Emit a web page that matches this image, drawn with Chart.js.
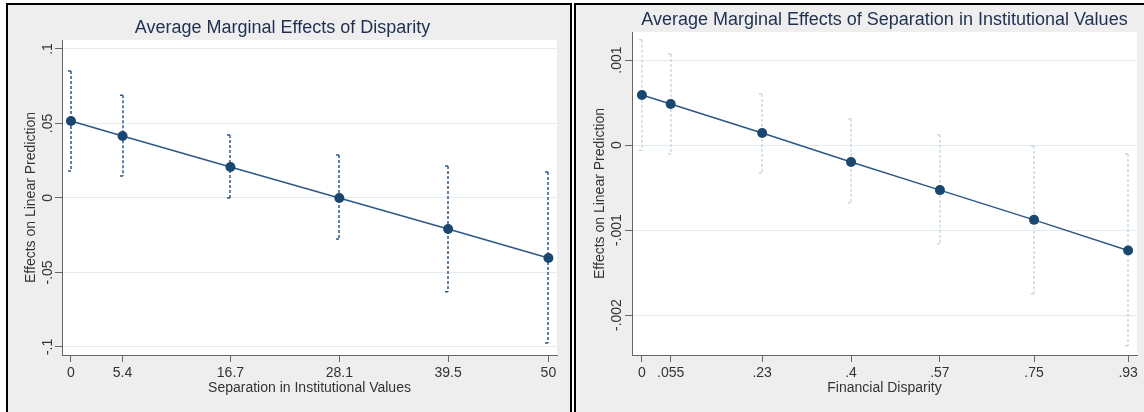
<!DOCTYPE html>
<html>
<head>
<meta charset="utf-8">
<script src="https://cdn.jsdelivr.net/npm/chart.js@4.4.1/dist/chart.umd.min.js"></script>
<style>
  body { margin: 0; background: #fff; width: 1144px; height: 412px; overflow: hidden; position: relative; }
  .panel { position: absolute; top: 3px; border: 2px solid #000; background: #eeeeee; height: 412px; }
  #p1 { left: 6px; width: 562px; }
  #p2 { left: 574px; width: 570px; }
  canvas { display: block; }
</style>
</head>
<body>
<div class="panel" id="p1"><canvas id="c1" width="562" height="407"></canvas></div>
<div class="panel" id="p2"><canvas id="c2" width="570" height="407"></canvas></div>
<script>
// left panel: effect of disparity over separation values
const sepValues = [0, 5.4, 16.7, 28.1, 39.5, 50];
const sepLabels = ['0', '5.4', '16.7', '28.1', '39.5', '50'];
const dispEffect = [0.0517, 0.0416, 0.0208, 0.0, -0.0208, -0.0403];
const dispLow = [0.0181, 0.0148, 0.0, -0.0275, -0.063, -0.0973];
const dispHigh = [0.0852, 0.069, 0.0423, 0.0289, 0.0215, 0.0174];
const leftYTicks = [-0.1, -0.05, 0, 0.05, 0.1];
const leftYLabels = ['-.1', '-.05', '0', '.05', '.1'];

// right panel: effect of separation over disparity values
const dispValues = [0, 0.055, 0.23, 0.4, 0.57, 0.75, 0.93];
const dispLabels = ['0', '.055', '.23', '.4', '.57', '.75', '.93'];
const sepEffect = [0.000588, 0.000482, 0.000141, -0.0002, -0.00053, -0.00088, -0.00124];
const sepLow = [-0.00006, -0.000106, -0.00033, -0.00068, -0.00116, -0.00175, -0.00236];
const sepHigh = [0.00124, 0.00107, 0.0006, 0.00031, 0.00012, -0.00001, -0.000106];
const rightYTicks = [-0.002, -0.001, 0, 0.001];
const rightYLabels = ['-.002', '-.001', '0', '.001'];

const FONT = "'Liberation Sans', Arial, sans-serif";

const background = {
  id: 'background',
  beforeDraw(chart) {
    const {ctx, chartArea: a} = chart;
    ctx.save();
    ctx.fillStyle = '#eeeeee';
    ctx.fillRect(0, 0, chart.width, chart.height);
    ctx.fillStyle = '#ffffff';
    ctx.fillRect(a.left, a.top, a.right - a.left, a.bottom - a.top);
    ctx.restore();
  }
};

// dashed confidence intervals, drawn under the line
const errorBars = {
  id: 'errorBars',
  beforeDatasetsDraw(chart, args, opts) {
    const {ctx} = chart;
    const ds = chart.data.datasets[0];
    const meta = chart.getDatasetMeta(0);
    const y = chart.scales.y;
    ctx.save();
    ctx.strokeStyle = opts.color;
    ctx.lineWidth = 1.5;
    meta.data.forEach((pt, i) => {
      const px = Math.round(pt.x);
      const top = y.getPixelForValue(ds.ciHigh[i]);
      const bot = y.getPixelForValue(ds.ciLow[i]);
      ctx.setLineDash([3, 2]);
      ctx.beginPath();
      ctx.moveTo(px, top);
      ctx.lineTo(px, bot);
      ctx.stroke();
      ctx.setLineDash([]);
      ctx.beginPath();
      ctx.moveTo(px - 3, top); ctx.lineTo(px, top);
      ctx.moveTo(px - 3, bot); ctx.lineTo(px, bot);
      ctx.stroke();
    });
    ctx.restore();
  }
};

function buildChart(id, o) {
  return new Chart(document.getElementById(id), {
    type: 'line',
    data: {
      datasets: [{
        data: o.xs.map((v, i) => ({x: v, y: o.eff[i]})),
        ciLow: o.low,
        ciHigh: o.high,
        borderColor: '#2b5886',
        borderWidth: 1.5,
        pointRadius: 5,
        pointHoverRadius: 5,
        pointBackgroundColor: '#1a476f',
        pointBorderWidth: 0,
        tension: 0,
        clip: false
      }]
    },
    options: {
      responsive: false,
      animation: false,
      events: [],
      layout: { padding: { right: o.padRight } },
      plugins: {
        legend: { display: false },
        tooltip: { enabled: false },
        title: {
          display: true,
          text: o.title,
          fullSize: o.titleFull,
          color: '#1e2f50',
          font: { family: FONT, size: 18, weight: 'normal' },
          padding: { top: o.titleTop, bottom: o.titleBottom }
        },
        errorBars: { color: o.barColor }
      },
      scales: {
        x: {
          type: 'linear',
          min: o.xMin,
          max: o.xMax,
          afterBuildTicks: s => { s.ticks = o.xs.map(v => ({value: v})); },
          afterFit: s => { s.height = 57; },
          ticks: {
            autoSkip: false,
            maxRotation: 0,
            padding: 3,
            color: '#333',
            font: { family: FONT, size: 14 },
            callback: (v, i) => o.xLabels[i]
          },
          grid: { drawOnChartArea: false, tickLength: 7, tickColor: '#666' },
          border: { color: '#666' },
          title: {
            display: true,
            text: o.xTitle,
            color: '#333',
            font: { family: FONT, size: 14 },
            padding: { top: 0, bottom: 15.6 }
          }
        },
        y: {
          min: o.yMin,
          max: o.yMax,
          afterBuildTicks: s => { s.ticks = o.yTicks.map(v => ({value: v})); },
          afterFit: s => { s.width = o.yWidth; },
          ticks: {
            autoSkip: false,
            minRotation: 90,
            maxRotation: 90,
            crossAlign: 'center',
            padding: o.yPad,
            color: '#333',
            font: { family: FONT, size: 14 },
            callback: (v, i) => o.yLabels[i]
          },
          grid: { color: '#e3ebee', tickLength: 7, tickColor: '#666' },
          border: { color: '#666' },
          title: {
            display: true,
            text: 'Effects on Linear Prediction',
            color: '#333',
            font: { family: FONT, size: 14 },
            padding: { top: o.yTitlePad, bottom: 0 }
          }
        }
      }
    },
    plugins: [background, errorBars]
  });
}

buildChart('c1', {
  title: 'Average Marginal Effects of Disparity',
  titleFull: true, titleTop: 12.2, titleBottom: 1.2,
  xTitle: 'Separation in Institutional Values',
  xs: sepValues, xLabels: sepLabels,
  eff: dispEffect, low: dispLow, high: dispHigh,
  yTicks: leftYTicks, yLabels: leftYLabels,
  xMin: -0.94, xMax: 50.9, yMin: -0.1054, yMax: 0.106,
  yWidth: 54, yPad: -5, yTitlePad: 14.6, padRight: 13,
  barColor: '#2e5a87'
});

buildChart('c2', {
  title: 'Average Marginal Effects of Separation in Institutional Values',
  titleFull: false, titleTop: 4.2, titleBottom: 1.2,
  xTitle: 'Financial Disparity',
  xs: dispValues, xLabels: dispLabels,
  eff: sepEffect, low: sepLow, high: sepHigh,
  yTicks: rightYTicks, yLabels: rightYLabels,
  xMin: -0.019, xMax: 0.947, yMin: -0.00247, yMax: 0.00133,
  yWidth: 56, yPad: -8, yTitlePad: 15.6, padRight: 9,
  barColor: '#c9d9e6'
});
</script>
</body>
</html>
